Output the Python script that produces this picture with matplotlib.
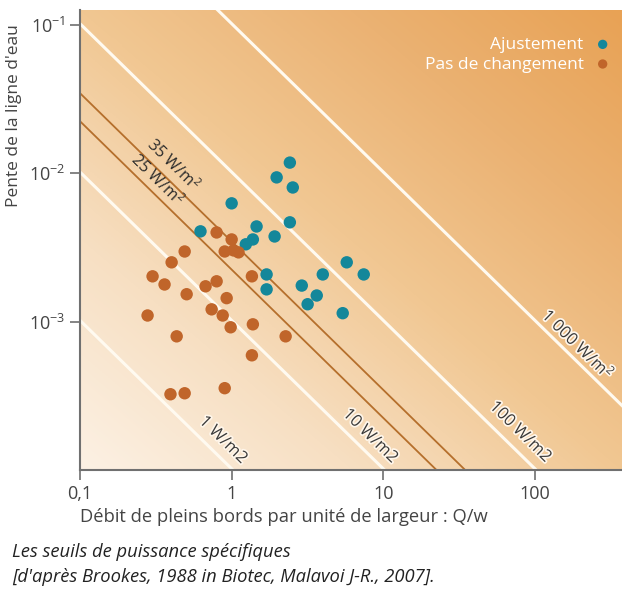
import numpy as np
import matplotlib
matplotlib.use("Agg")
import matplotlib.pyplot as plt
from matplotlib.colors import LinearSegmentedColormap
import matplotlib.patheffects as pe

plt.rcParams['font.family'] = ['Open Sans', 'DejaVu Sans']
plt.rcParams['mathtext.fontset'] = 'custom'
plt.rcParams['mathtext.rm'] = 'Open Sans'
plt.rcParams['mathtext.it'] = 'Open Sans:italic'

# ---- data ----
ajust_q = [2.42, 1.98, 2.53, 1.00, 0.623, 1.46, 2.42, 1.92, 1.38, 1.24,
           5.74, 7.43, 3.99, 1.70, 1.70, 2.90, 3.64, 3.17, 5.40]
ajust_s = [0.0118, 0.00938, 0.00802, 0.00627, 0.00406, 0.00438, 0.00467, 0.00375, 0.00358, 0.00332,
           0.00251, 0.00208, 0.00208, 0.00208, 0.00165, 0.00175, 0.00150, 0.00131, 0.00114]

pas_q = [0.796, 1.00, 0.90, 1.03, 1.11, 0.490, 0.402, 0.301, 0.361, 0.505,
         0.673, 0.796, 0.927, 1.36, 0.279, 0.738, 0.873, 0.985, 1.38, 2.27,
         0.434, 1.36, 0.395, 0.490, 0.90]
pas_s = [0.00399, 0.00358, 0.00297, 0.00302, 0.00293, 0.00297, 0.00251, 0.00202, 0.00178, 0.00153,
         0.00173, 0.00187, 0.00144, 0.00202, 0.00110, 0.00121, 0.00110, 0.000916, 0.000959, 0.000796,
         0.000796, 0.000593, 0.000324, 0.000329, 0.000356]

white_powers = [1, 10, 100, 1000]
white_labels = ["1 W/m2", "10 W/m2", "100 W/m2", "1 000 W/m$^2$"]
white_label_pos = [(0.873, 0.000159), (8.15, 0.000169), (79.6, 0.000180), (192, 0.000703)]

# brown threshold lines as drawn in the figure (labelled 25 and 35 W/m2)
brown_powers = [22, 34]
brown_labels = ["25 W/m$^2$", "35 W/m$^2$"]
brown_label_pos = [(0.32, 0.00908), (0.408, 0.01146)]

xticks = [0.1, 1, 10, 100]
xticklabels = ["0,1", "1", "10", "100"]
yticks = [1e-3, 1e-2, 1e-1]

RHO_G = 9810.0

fig = plt.figure(figsize=(6.22, 5.89), dpi=100)
ax = fig.add_axes([80 / 622, 1 - 470 / 589, 542 / 622, 460 / 589])
ax.set_xscale('log')
ax.set_yscale('log')
xmin, xmax = 0.1, 375
ymin, ymax = 1.0e-4, 0.126
ax.set_xlim(xmin, xmax)
ax.set_ylim(ymin, ymax)

# background gradient
n = 300
u = np.linspace(0, 1, n)
U, V = np.meshgrid(u, u)
T = (U + V) / 2
cmap = LinearSegmentedColormap.from_list('bg', ['#fcf1e4', '#f7dfc2', '#f1c792', '#ebb273', '#e8a255'])
ax.imshow(T, cmap=cmap, origin='lower', extent=[0, 1, 0, 1], transform=ax.transAxes,
          aspect='auto', zorder=0, interpolation='bilinear', vmin=0, vmax=1)

qq = np.logspace(-1.2, 3, 200)
for p in white_powers:
    ax.plot(qq, p / (RHO_G * qq), color='#fffaf0', lw=2.2, zorder=1)
for p in brown_powers:
    ax.plot(qq, p / (RHO_G * qq), color='#b56f2c', lw=1.3, zorder=1)

ang = -44.4
for lab, (x, y) in zip(white_labels, white_label_pos):
    ax.text(x, y, lab, rotation=ang, ha='center', va='center', rotation_mode='anchor',
            fontsize=12, color='#3a3a3a', zorder=3,
            path_effects=[pe.withStroke(linewidth=2.5, foreground='#fff6ea')])
for lab, (x, y) in zip(brown_labels, brown_label_pos):
    ax.text(x, y, lab, rotation=ang, ha='center', va='center', rotation_mode='anchor',
            fontsize=11.5, color='#2a2a2a', zorder=3)

ax.scatter(ajust_q, ajust_s, s=80, color='#14879a', edgecolors='none', zorder=4, label='Ajustement')
ax.scatter(pas_q, pas_s, s=80, color='#c0652a', edgecolors='none', zorder=4, label='Pas de changement')

leg = ax.legend(loc='upper right', frameon=False, markerfirst=False, labelcolor='white',
                fontsize=12.5, handletextpad=0.1, borderaxespad=0.4, labelspacing=0.2,
                bbox_to_anchor=(1.022, 0.972), markerscale=0.75)

for s in ['top', 'right']:
    ax.spines[s].set_visible(False)
for s in ['left', 'bottom']:
    ax.spines[s].set_color('#707070')
    ax.spines[s].set_linewidth(1.5)

ax.set_xticks(xticks)
ax.set_xticklabels(xticklabels)
ax.set_yticks(yticks)
ax.minorticks_off()
ax.tick_params(axis='both', colors='#707070', labelcolor='#444444', labelsize=13,
               length=7, width=1.2, direction='out')

ax.set_xlabel("Débit de pleins bords par unité de largeur : Q/w", loc='left',
              fontsize=13.2, color='#444444', labelpad=4)
ax.set_ylabel("Pente de la ligne d'eau", fontsize=12.5, color='#444444')
ax.yaxis.set_label_coords(-0.107, 0.77)

fig.text(12 / 622, 1 - 552 / 589, "Les seuils de puissance spécifiques", style='italic',
         fontsize=13.2, color='#222222', va='center', ha='left')
fig.text(12 / 622, 1 - 577 / 589, "[d'après Brookes, 1988 in Biotec, Malavoi J-R., 2007].", style='italic',
         fontsize=13.2, color='#222222', va='center', ha='left')

fig.savefig('out.png', dpi=100)
